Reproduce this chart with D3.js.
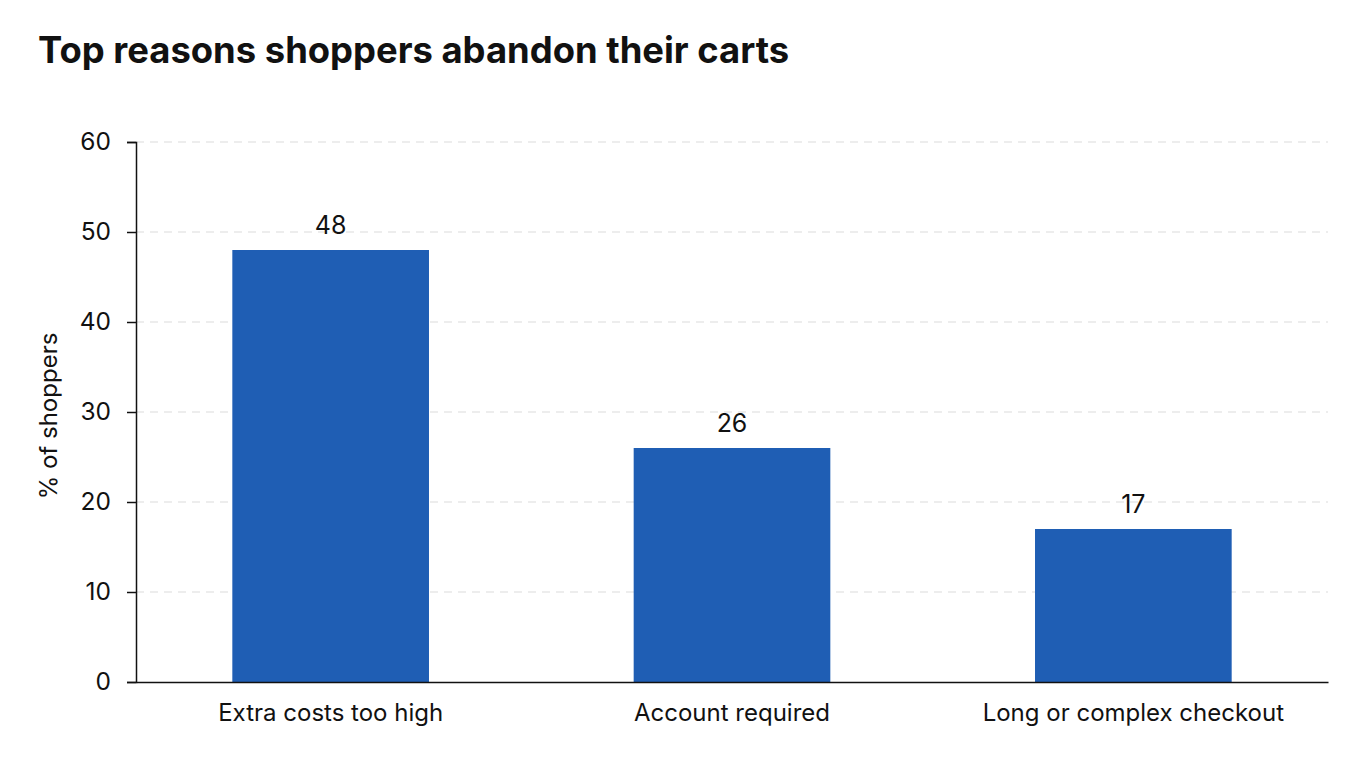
<!DOCTYPE html>
<html>
<head>
<meta charset="utf-8">
<script src="https://cdn.jsdelivr.net/npm/d3@7"></script>
<style>
  body { margin: 0; background: #fff; }
  text { font-family: Inter, "Noto Sans", sans-serif; fill: #111; }
</style>
</head>
<body>
<script>
var categories = ["Extra costs too high", "Account required", "Long or complex checkout"];
var values = [48, 26, 17];
var yTicks = [0, 10, 20, 30, 40, 50, 60];

var width = 1360, height = 768;
var margin = {top: 142, right: 32, bottom: 86, left: 136};
var innerW = width - margin.left - margin.right;
var innerH = height - margin.top - margin.bottom;

var svg = d3.select("body").append("svg")
    .attr("width", width)
    .attr("height", height);

svg.append("text")
    .attr("x", 38)
    .attr("y", 63)
    .attr("font-size", 36.4)
    .attr("font-weight", 700)
    .text("Top reasons shoppers abandon their carts");

var g = svg.append("g")
    .attr("transform", "translate(" + margin.left + "," + margin.top + ")");

var x = d3.scaleBand().domain(categories).range([0, innerW]).paddingInner(0.51).paddingOuter(0.24);
var y = d3.scaleLinear().domain([0, 60]).range([innerH, 0]);

// grid
g.selectAll(".grid").data(yTicks.filter(function(d){ return d > 0; }))
  .enter().append("line")
    .attr("x1", 0).attr("x2", innerW)
    .attr("y1", function(d){ return y(d); })
    .attr("y2", function(d){ return y(d); })
    .attr("stroke", "#dcdcdc")
    .attr("stroke-width", 1.2)
    .attr("stroke-dasharray", "8,6");

// bars
g.selectAll(".bar").data(values)
  .enter().append("rect")
    .attr("x", function(d, i){ return x(categories[i]); })
    .attr("width", x.bandwidth())
    .attr("y", function(d){ return y(d); })
    .attr("height", function(d){ return innerH - y(d); })
    .attr("fill", "#1f5eb4");

// value labels
g.selectAll(".val").data(values)
  .enter().append("text")
    .attr("x", function(d, i){ return x(categories[i]) + x.bandwidth() / 2; })
    .attr("y", function(d){ return y(d) - 16; })
    .attr("text-anchor", "middle")
    .attr("font-size", 25)
    .text(function(d){ return d; });

// y axis
var yAxis = g.append("g")
    .call(d3.axisLeft(y).tickValues(yTicks).tickSize(9).tickPadding(16));
yAxis.select(".domain").attr("stroke", "#111").attr("stroke-width", 1.5);
yAxis.selectAll(".tick line").attr("stroke", "#111").attr("stroke-width", 1.5);
yAxis.selectAll(".tick text")
    .attr("font-size", 24.5)
    .attr("font-family", "Inter, 'Noto Sans', sans-serif")
    .attr("fill", "#111");

// x axis
var xAxis = g.append("g")
    .attr("transform", "translate(0," + innerH + ")")
    .call(d3.axisBottom(x).tickSize(0).tickPadding(22));
xAxis.select(".domain").attr("stroke", "#111").attr("stroke-width", 1.5);
xAxis.selectAll(".tick text")
    .attr("font-size", 24)
    .attr("font-family", "Inter, 'Noto Sans', sans-serif")
    .attr("fill", "#111");

svg.append("text")
    .attr("transform", "translate(57," + 416 + ") rotate(-90)")
    .attr("text-anchor", "middle")
    .attr("font-size", 24)
    .text("% of shoppers");
</script>
</body>
</html>
